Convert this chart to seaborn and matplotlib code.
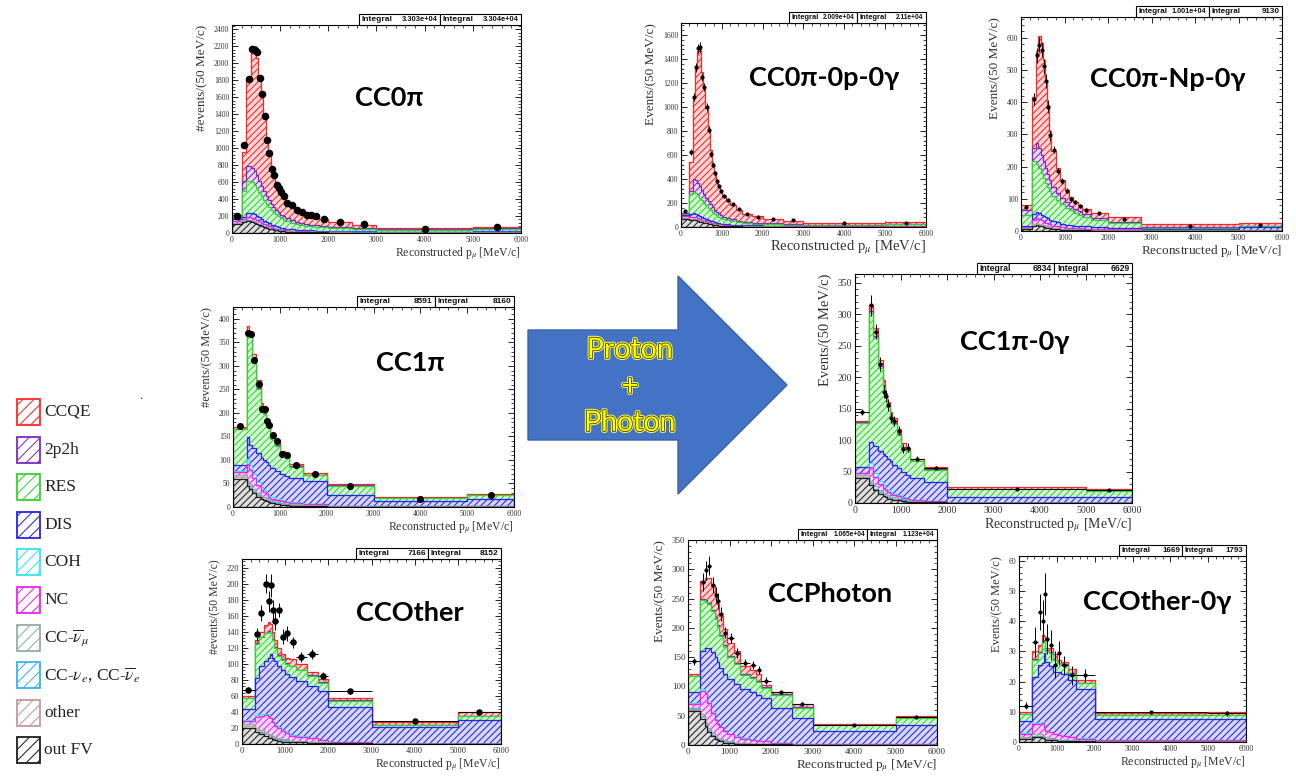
import numpy as np
import matplotlib
matplotlib.use("Agg")
import matplotlib.pyplot as plt
import matplotlib.patches as mpatches
import matplotlib.patheffects as pe
from matplotlib.ticker import MultipleLocator, AutoMinorLocator
import seaborn as sns

# ------------------------------------------------------------------
# CC0pi
cc0pi_edges = [0, 200, 300, 400, 450, 500, 550, 600, 650, 700, 750, 800, 850, 900, 950, 1000,
               1050, 1100, 1200, 1300, 1400, 1500, 1600, 1700, 1800, 2000, 2500, 3000, 5000, 6000]
cc0pi_data = [204, 1039, 1819, 2171, 2155, 2128, 1823, 1639, 1384, 1098, 941, 753, 678, 568, 525,
              486, 431, 353, 329, 267, 251, 216, 216, 196, 165, 125, 102, 51, 67]
cc0pi_ccqe = [26, 340, 1016, 1435, 1472, 1382, 1212, 1065, 855, 673, 545, 441, 378, 329, 288,
              254, 234, 194, 168, 146, 131, 117, 107, 100, 81, 59, 38, 11, 17]
cc0pi_mec = [8, 110, 176, 170, 160, 148, 135, 120, 105, 90, 78, 68, 60, 53, 47,
             42, 38, 34, 29, 25, 22, 20, 18, 16, 14, 11, 9, 5, 7]
cc0pi_res = [15, 310, 375, 365, 350, 330, 300, 272, 245, 218, 193, 172, 153, 137, 123,
             110, 100, 90, 78, 68, 60, 54, 49, 45, 40, 33, 28, 22, 30]
cc0pi_dis = [20, 25, 45, 50, 50, 48, 46, 43, 40, 37, 34, 31, 29, 27, 25,
             23, 21, 19, 17, 16, 15, 14, 13, 12, 11, 10, 9, 8, 12]
cc0pi_coh = [0, 1, 1, 1, 1, 1, 1, 1, 1, 1, 1, 1, 1, 1, 1,
             1, 1, 1, 1, 1, 1, 1, 1, 1, 1, 1, 1, 1, 1]
cc0pi_nc = [25, 15, 30, 32, 30, 28, 26, 24, 22, 20, 18, 16, 14, 13, 12,
            11, 10, 9, 8, 7, 6, 6, 5, 5, 4, 3, 3, 2, 2]
cc0pi_numubar = [4, 6, 8, 8, 8, 7, 7, 6, 6, 5, 5, 4, 4, 4, 3,
                 3, 3, 3, 2, 2, 2, 2, 2, 2, 1, 1, 1, 1, 1]
cc0pi_nue = [2, 3, 3, 3, 3, 3, 3, 2, 2, 2, 2, 2, 2, 2, 1,
             1, 1, 1, 1, 1, 1, 1, 1, 1, 1, 1, 1, 1, 1]
cc0pi_other = [5, 5, 6, 6, 6, 5, 5, 5, 4, 4, 4, 3, 3, 3, 3,
               2, 2, 2, 2, 2, 2, 1, 1, 1, 1, 1, 1, 1, 1]
cc0pi_outfv = [110, 135, 140, 130, 120, 108, 95, 82, 70, 60, 50, 42, 36, 31, 27,
               23, 20, 17, 14, 12, 10, 9, 8, 7, 6, 5, 4, 3, 3]

# CC0pi-0p-0gamma
cc0p_edges = [0, 200, 300, 350, 400, 450, 500, 550, 600, 650, 700, 750, 800, 850, 900, 950, 1000,
              1100, 1200, 1350, 1500, 1750, 2000, 2500, 3000, 5000, 6000]
cc0p_data = [134, 624, 1082, 1330, 1490, 1500, 1250, 1165, 1000, 810, 612, 520, 447, 380, 340,
             300, 260, 224, 190, 150, 110, 84, 64, 56, 34, 31]
cc0p_err = [12, 25, 33, 36, 39, 39, 35, 34, 32, 28, 25, 23, 21, 20, 18,
            17, 16, 15, 14, 11, 9, 8, 5, 5, 3, 4]
cc0p_ccqe = [6, 245, 684, 929, 1101, 1140, 978, 882, 745, 594, 452, 354, 296, 253, 222,
             196, 170, 142, 117, 94, 69, 52, 38, 28, 11, 14]
cc0p_mec = [4, 25, 105, 110, 105, 95, 85, 75, 65, 56, 48, 42, 36, 31, 27,
            24, 20, 17, 14, 11, 9, 7, 6, 4, 2, 3]
cc0p_res = [6, 170, 175, 170, 160, 150, 140, 125, 110, 98, 86, 76, 67, 59, 52,
            46, 40, 34, 29, 24, 20, 16, 13, 10, 8, 12]
cc0p_dis = [10, 25, 30, 30, 29, 28, 26, 24, 22, 20, 18, 16, 14, 13, 12,
            11, 10, 9, 8, 7, 6, 6, 5, 5, 4, 6]
cc0p_nc = [15, 10, 15, 15, 14, 13, 12, 11, 10, 9, 8, 7, 6, 5, 5,
           4, 4, 3, 3, 2, 2, 2, 1, 1, 1, 1]
cc0p_numubar = [5, 6, 7, 7, 7, 6, 6, 5, 5, 4, 4, 4, 3, 3, 3,
                2, 2, 2, 2, 1, 1, 1, 1, 1, 1, 1]
cc0p_other = [4, 4, 4, 4, 4, 3, 3, 3, 3, 3, 2, 2, 2, 2, 2,
              2, 1, 1, 1, 1, 1, 1, 1, 1, 1, 1]
cc0p_outfv = [70, 60, 60, 55, 50, 45, 40, 35, 30, 26, 22, 19, 16, 14, 12,
              10, 8, 7, 6, 5, 4, 3, 3, 2, 2, 2]

# CC0pi-Np-0gamma
ccnp_edges = [0, 250, 350, 400, 450, 500, 550, 600, 650, 700, 800, 900, 1000, 1100, 1200, 1300,
              1400, 1600, 2000, 2750, 5000, 6000]
ccnp_data = [75, 410, 546, 579, 564, 512, 465, 386, 298, 253, 187, 155, 125, 98, 90, 78, 65, 55, 37, 14, 18]
ccnp_err = [6, 20, 23, 24, 24, 23, 22, 20, 17, 12, 10, 9, 8, 7, 7, 6, 5, 4, 3, 1, 2]
ccnp_ccqe = [15, 157, 286, 348, 348, 314, 274, 213, 153, 114, 76, 57, 39, 26, 22, 19, 16, 14, 14, 10, 8]
ccnp_mec = [15, 40, 65, 62, 58, 52, 46, 40, 34, 28, 24, 20, 17, 14, 12, 10, 8, 6, 3, 2, 2]
ccnp_res = [35, 165, 150, 140, 128, 118, 108, 98, 88, 78, 68, 60, 52, 46, 40, 35, 30, 24, 15, 3, 4]
ccnp_dis = [4, 20, 20, 19, 18, 17, 16, 15, 14, 13, 12, 11, 10, 9, 8, 8, 7, 6, 5, 4, 8]
ccnp_nc = [3, 12, 14, 13, 12, 11, 10, 9, 8, 7, 6, 5, 4, 4, 3, 3, 3, 2, 2, 1, 1]
ccnp_numubar = [2, 4, 5, 5, 5, 4, 4, 4, 3, 3, 3, 2, 2, 2, 2, 2, 1, 1, 1, 1, 1]
ccnp_other = [1, 2, 2, 2, 2, 2, 2, 2, 2, 1, 1, 1, 1, 1, 1, 1, 1, 1, 1, 0, 0]
ccnp_outfv = [5, 15, 18, 16, 14, 12, 10, 9, 8, 6, 5, 4, 3, 3, 2, 2, 2, 1, 1, 1, 1]

# CC1pi
cc1pi_edges = [0, 300, 350, 400, 500, 600, 650, 700, 750, 800, 900, 1000, 1100, 1200, 1500,
               2000, 3000, 5000, 6000]
cc1pi_data = [172, 370, 368, 313, 262, 209, 209, 182, 175, 152, 140, 113, 110, 89, 71, 45, 18, 25]
cc1pi_ccqe = [4, 12, 10, 17, 17, 13, 10, 10, 8, 9, 7, 7, 6, 5, 3, 2, 2, 2]
cc1pi_mec = [1, 3, 3, 3, 3, 2, 2, 2, 2, 1, 1, 1, 1, 1, 1, 1, 0, 0]
cc1pi_res = [75, 222, 230, 180, 135, 100, 98, 83, 78, 63, 54, 40, 39, 24, 13, 19, 7, 9]
cc1pi_dis = [13, 45, 43, 54, 61, 63, 64, 64, 66, 61, 59, 55, 55, 52, 48, 23, 10, 14]
cc1pi_coh = [2, 12, 10, 10, 8, 6, 5, 4, 3, 3, 2, 2, 1, 1, 1, 0, 0, 0]
cc1pi_nc = [8, 35, 30, 22, 16, 12, 10, 8, 7, 6, 5, 4, 3, 3, 2, 1, 1, 1]
cc1pi_numubar = [3, 5, 5, 4, 4, 3, 3, 3, 2, 2, 2, 2, 1, 1, 1, 1, 1, 1]
cc1pi_nue = [1, 3, 3, 3, 2, 2, 2, 2, 1, 1, 1, 1, 1, 1, 0, 0, 0, 0]
cc1pi_other = [3, 3, 3, 2, 2, 2, 2, 2, 1, 1, 1, 1, 1, 1, 1, 0, 0, 0]
cc1pi_outfv = [60, 45, 38, 30, 22, 17, 14, 12, 10, 8, 6, 5, 4, 3, 2, 1, 1, 1]

# CC1pi-0gamma
cc1g_edges = [0, 300, 400, 500, 600, 650, 700, 750, 800, 900, 1000, 1100, 1200, 1500, 2000, 5000, 6000]
cc1g_data = [145, 314, 272, 221, 177, 170, 156, 135, 131, 115, 86, 88, 70, 56, 22, 20]
cc1g_err = [5, 17, 12, 11, 10, 10, 9, 8, 8, 7, 7, 7, 4, 3, 1, 1]
cc1g_ccqe = [2, 10, 13, 10, 8, 5, 6, 5, 8, 8, 6, 5, 3, 3, 2, 2]
cc1g_mec = [1, 3, 3, 3, 2, 2, 2, 2, 2, 2, 1, 1, 1, 1, 1, 1]
cc1g_res = [69, 205, 172, 133, 107, 94, 82, 72, 65, 53, 38, 37, 26, 20, 12, 9]
cc1g_dis = [10, 34, 43, 47, 50, 51, 50, 49, 46, 42, 41, 38, 35, 30, 10, 10]
cc1g_coh = [1, 6, 6, 5, 4, 3, 3, 3, 2, 2, 1, 1, 1, 0, 0, 0]
cc1g_nc = [3, 22, 14, 10, 8, 6, 5, 4, 3, 3, 2, 2, 1, 1, 0, 0]
cc1g_numubar = [2, 4, 4, 3, 3, 3, 3, 2, 2, 2, 2, 1, 1, 1, 0, 0]
cc1g_nue = [1, 2, 2, 2, 1, 1, 1, 1, 1, 1, 1, 1, 0, 0, 0, 0]
cc1g_other = [1, 1, 1, 1, 1, 1, 1, 1, 1, 1, 0, 0, 0, 0, 0, 0]
cc1g_outfv = [40, 28, 20, 14, 11, 9, 7, 6, 5, 4, 3, 2, 2, 1, 0, 0]

# CCOther
ccoth_edges = [0, 300, 400, 500, 600, 650, 700, 750, 800, 900, 1000, 1100, 1250, 1500, 1750,
               2000, 3000, 5000, 6000]
ccoth_data = [68, 137, 164, 200, 178, 198, 167, 154, 167, 134, 138, 127, 109, 112, 85, 66, 29, 40]
ccoth_err = [3, 8, 10, 12, 13, 14, 13, 12, 9, 9, 9, 7, 6, 6, 5, 3, 1, 2]
ccoth_ccqe = [2, 4, 6, 9, 11, 11, 9, 9, 9, 7, 7, 8, 7, 4, 4, 3, 3, 5]
ccoth_mec = [1, 1, 1, 1, 1, 1, 1, 1, 1, 1, 1, 1, 1, 1, 1, 1, 0, 0]
ccoth_res = [13, 43, 35, 34, 32, 26, 22, 16, 12, 13, 12, 13, 13, 13, 10, 8, 3, 5]
ccoth_dis = [14, 46, 61, 66, 71, 79, 80, 80, 77, 75, 73, 73, 69, 65, 61, 43, 21, 30]
ccoth_coh = [1, 2, 2, 2, 2, 1, 1, 1, 1, 1, 1, 1, 1, 0, 0, 0, 0, 0]
ccoth_nc = [4, 14, 18, 21, 22, 20, 17, 15, 13, 10, 8, 6, 5, 4, 3, 2, 0, 0]
ccoth_numubar = [2, 2, 2, 2, 2, 2, 2, 1, 1, 1, 1, 1, 1, 1, 1, 0, 0, 0]
ccoth_nue = [1, 1, 1, 1, 1, 1, 1, 1, 1, 1, 1, 0, 0, 0, 0, 0, 0, 0]
ccoth_other = [2, 2, 2, 2, 2, 2, 1, 1, 1, 1, 1, 1, 1, 1, 0, 0, 0, 0]
ccoth_outfv = [20, 15, 12, 10, 8, 7, 6, 5, 4, 3, 3, 2, 2, 1, 1, 1, 0, 0]

# CCPhoton
ccph_edges = [0, 300, 400, 450, 550, 650, 700, 750, 850, 950, 1100, 1250, 1500, 1650, 1750,
              2000, 2500, 3000, 5000, 6000]
ccph_data = [143, 278, 298, 306, 273, 256, 246, 223, 192, 183, 157, 140, 137, 128, 110, 90, 70, 35, 48]
ccph_err = [6, 15, 16, 16, 14, 14, 13, 12, 10, 9, 8, 6, 7, 7, 6, 3, 3, 1, 2]
ccph_ccqe = [4, 30, 37, 42, 41, 40, 35, 32, 28, 23, 20, 14, 12, 13, 4, 3, 5, 1, 3]
ccph_mec = [1, 3, 3, 3, 3, 3, 3, 2, 2, 2, 2, 1, 1, 1, 1, 1, 1, 0, 0]
ccph_res = [27, 87, 80, 75, 70, 65, 60, 54, 46, 38, 34, 25, 25, 22, 18, 23, 18, 11, 11]
ccph_dis = [19, 65, 75, 92, 102, 106, 105, 101, 97, 93, 89, 83, 82, 79, 74, 59, 44, 23, 34]
ccph_coh = [1, 2, 2, 2, 2, 1, 1, 1, 1, 1, 1, 1, 0, 0, 0, 0, 0, 0, 0]
ccph_nc = [6, 40, 48, 42, 34, 28, 24, 20, 16, 12, 10, 8, 6, 5, 4, 3, 2, 1, 1]
ccph_numubar = [3, 4, 4, 3, 3, 2, 2, 2, 2, 1, 1, 1, 1, 1, 1, 0, 0, 0, 0]
ccph_nue = [1, 2, 2, 2, 1, 1, 1, 1, 1, 1, 0, 0, 0, 0, 0, 0, 0, 0, 0]
ccph_other = [2, 2, 2, 2, 1, 1, 1, 1, 1, 1, 1, 0, 0, 0, 0, 0, 0, 0, 0]
ccph_outfv = [58, 45, 32, 22, 15, 11, 8, 6, 4, 3, 2, 2, 1, 1, 1, 1, 0, 0, 0]

# CCOther-0gamma
ccog_edges = [0, 350, 500, 600, 650, 700, 800, 900, 1000, 1100, 1300, 1500, 2000, 5000, 6000]
ccog_data = [12, 33, 43, 40, 49, 34, 32, 25.5, 29.5, 25.6, 22, 22, 9.8, 9.5]
ccog_err = [1.2, 5, 6, 7, 7, 5, 5, 4.5, 4, 3, 3, 2, 0.6, 0.8]
ccog_ccqe = [0.7, 2.7, 2.2, 2.2, 1.2, 0.7, 1.2, 1.8, 0.8, 0.8, 1.3, 0.9, 0.6, 1.1]
ccog_mec = [0.1, 0.3, 0.3, 0.3, 0.3, 0.3, 0.3, 0.2, 0.2, 0.2, 0.2, 0.1, 0.1, 0.1]
ccog_res = [2.2, 5.5, 4.0, 7.0, 4.0, 3.5, 4.5, 4.0, 3.0, 3.0, 2.0, 2.0, 1.3, 1.3]
ccog_dis = [4.1, 15.2, 19.2, 19.5, 24.2, 22.8, 21.6, 20.2, 20.6, 20.5, 18.8, 16.3, 7.0, 7.0]
ccog_coh = [0.2, 0.3, 0.3, 0.3, 0.3, 0.2, 0.2, 0.2, 0.1, 0.1, 0.1, 0.1, 0, 0]
ccog_nc = [1, 3.5, 3.5, 4, 3, 2, 2, 1.5, 1.5, 1.2, 1, 0.7, 0.3, 0.3]
ccog_numubar = [0.3, 0.5, 0.5, 0.5, 0.5, 0.4, 0.3, 0.3, 0.2, 0.2, 0.2, 0.1, 0.1, 0.1]
ccog_nue = [0.1, 0.2, 0.2, 0.2, 0.2, 0.1, 0.1, 0.1, 0.1, 0.1, 0.1, 0, 0, 0]
ccog_other = [0.3, 0.3, 0.3, 0.3, 0.3, 0.2, 0.2, 0.2, 0.1, 0.1, 0.1, 0.1, 0, 0]
ccog_outfv = [1, 1.5, 1.5, 1.2, 1, 0.8, 0.6, 0.5, 0.4, 0.3, 0.2, 0.2, 0.1, 0.1]

# ------------------------------------------------------------------
# interaction-mode styling (legend order, top of stack first)
legend_keys = ["ccqe", "mec", "res", "dis", "coh", "nc", "numubar", "nue", "other", "outfv"]
legend_labels = ["CCQE", "2p2h", "RES", "DIS", "COH", "NC", r"CC-$\overline{\nu}_{\mu}$",
                 r"CC-$\nu_{e}$, CC-$\overline{\nu}_{e}$", "other", "out FV"]
EDGE = {"ccqe": "#ff2626", "mec": "#7b2cbf", "res": "#2ed62e", "dis": "#2424f0",
        "coh": "#2ee6f2", "nc": "#f020f0", "numubar": "#93aea6", "nue": "#33b5f0",
        "other": "#c29a9a", "outfv": "#1e1e1e"}
FACE = {"ccqe": "#f9d4d4", "mec": "#e8d8f4", "res": "#d4f5d4", "dis": "#d6d6f6",
        "coh": "#d6f6f8", "nc": "#f6d4f6", "numubar": "#eaf0ee", "nue": "#d6eef8",
        "other": "#f2e8e8", "outfv": "#dedede"}
STACK_ORDER = legend_keys[::-1]

sns.set_theme(style="ticks")
plt.rcParams["font.family"] = ["Liberation Serif", "DejaVu Serif"]
plt.rcParams["mathtext.fontset"] = "stix"
plt.rcParams["hatch.linewidth"] = 0.75
plt.rcParams["axes.linewidth"] = 0.8
plt.rcParams["axes.edgecolor"] = "black"

W, H = 1296, 777
fig = plt.figure(figsize=(W / 100, H / 100), dpi=100, facecolor="white")

TITLE_FONT = ["Lato", "DejaVu Sans"]
BOX_FONT = ["Liberation Sans", "DejaVu Sans"]


def mc_dict(prefix):
    g = globals()
    out = {}
    for key in STACK_ORDER:
        name = f"{prefix}_{key}"
        if name in g:
            out[key] = g[name]
    return out


panels = [
    dict(title="CC0π", tpos=(389, 98), box=(232, 25, 521, 233), pre="cc0pi", err=None, xerr=False,
         ymax=2450, ystep=200, ylabel="#events/(50 MeV/c)", yls=9.5, xls=8.5, ts=5.5, ms=30,
         integ=("3.303e+04", "3.304e+04"), bfs=6.0),
    dict(title="CC0π-0p-0γ", tpos=(824, 78), box=(681, 23, 926, 227), pre="cc0p", err=cc0p_err, xerr=False,
         ymax=1700, ystep=200, ylabel="Events/(50 MeV/c)", yls=9.5, xls=10.5, ts=5.5, ms=9,
         integ=("2.009e+04", "2.11e+04"), bfs=5.4),
    dict(title="CC0π-Np-0γ", tpos=(1168, 79), box=(1021, 17, 1282, 231), pre="ccnp", err=ccnp_err, xerr=False,
         ymax=665, ystep=100, ylabel="Events/(50 MeV/c)", yls=9.5, xls=9.5, ts=5.5, ms=9,
         integ=("1.001e+04", "9130"), bfs=5.8),
    dict(title="CC1π", tpos=(410, 363), box=(233, 307, 514, 507), pre="cc1pi", err=None, xerr=False,
         ymax=425, ystep=50, ylabel="#events/(50 MeV/c)", yls=9.0, xls=8.5, ts=5.5, ms=26,
         integ=("8591", "8160"), bfs=6.0),
    dict(title="CC1π-0γ", tpos=(1015, 342), box=(855, 274, 1132, 503), pre="cc1g", err=cc1g_err, xerr=True,
         ymax=364, ystep=50, ylabel="Events/(50 MeV/c)", yls=10.5, xls=10, ts=7, ms=9,
         integ=("6834", "6629"), bfs=6.2),
    dict(title="CCOther", tpos=(410, 613), box=(242, 559, 501, 744), pre="ccoth", err=ccoth_err, xerr=True,
         ymax=231, ystep=20, ylabel="#events/(50 MeV/c)", yls=8.5, xls=8.5, ts=6, ms=22,
         integ=("7166", "8152"), bfs=6.0),
    dict(title="CCPhoton", tpos=(830, 594), box=(688, 540, 937, 745), pre="ccph", err=ccph_err, xerr=True,
         ymax=350, ystep=50, ylabel="Events/(50 MeV/c)", yls=9.5, xls=9.5, ts=6.5, ms=9,
         integ=("1.065e+04", "1.123e+04"), bfs=5.4),
    dict(title="CCOther-0γ", tpos=(1157, 602), box=(1019, 556, 1246, 742), pre="ccog", err=ccog_err, xerr=True,
         ymax=61.5, ystep=10, ylabel="Events/(50 MeV/c)", yls=9.0, xls=8.5, ts=5.5, ms=9,
         integ=("1669", "1793"), bfs=5.8),
]


def draw_panel(p):
    l, t, r, b = p["box"]
    ax = fig.add_axes([l / W, 1 - b / H, (r - l) / W, (b - t) / H])
    ax.set_facecolor("white")
    g = globals()
    edge_list = [float(e) for e in g[p["pre"] + "_edges"]]
    edges = np.asarray(edge_list)
    data = np.asarray(g[p["pre"] + "_data"], float)
    centers = 0.5 * (edges[:-1] + edges[1:])
    mc = mc_dict(p["pre"])

    # cumulative stack, drawn from the top layer down so lower layers sit in front
    running = np.zeros(len(centers))
    tops = {}
    for key in STACK_ORDER:
        if key in mc:
            running = running + np.asarray(mc[key], float)
            tops[key] = running.copy()
    for key in STACK_ORDER[::-1]:
        if key not in tops:
            continue
        sns.histplot(x=centers, weights=tops[key], bins=edge_list, stat="count", element="step",
                     fill=True, facecolor=FACE[key], edgecolor=EDGE[key], hatch="/////",
                     linewidth=0.9, alpha=1, ax=ax)

    if p["err"] is not None:
        xerr = (edges[1:] - edges[:-1]) / 2 if p["xerr"] else None
        ax.errorbar(centers, data, yerr=p["err"], xerr=xerr, fmt="none", ecolor="black",
                    elinewidth=0.7, capsize=0, zorder=5)
    sns.scatterplot(x=centers, y=data, color="black", s=p["ms"], edgecolor="black",
                    linewidth=0, zorder=6, ax=ax)

    ax.set_xlim(0, 6000)
    ax.set_ylim(0, p["ymax"])
    ax.xaxis.set_major_locator(MultipleLocator(1000))
    ax.xaxis.set_minor_locator(AutoMinorLocator(5))
    ax.yaxis.set_major_locator(MultipleLocator(p["ystep"]))
    ax.yaxis.set_minor_locator(AutoMinorLocator(5))
    ax.tick_params(which="major", direction="in", length=4, width=0.6, top=True, right=True,
                   labelsize=p["ts"], labelcolor="#333333", pad=2, color="black")
    ax.tick_params(which="minor", direction="in", length=2, width=0.5, top=True, right=True,
                   color="black")
    ax.set_xlabel(r"Reconstructed p$_{\mu}$ [MeV/c]", loc="right", fontsize=p["xls"],
                  color="#333333", labelpad=1)
    ax.set_ylabel(p["ylabel"], loc="top", fontsize=p["yls"], color="#333333", labelpad=4)
    for s in ax.spines.values():
        s.set_color("black")
        s.set_linewidth(0.8)
    return ax


for p in panels:
    draw_panel(p)

# overlay in pixel coordinates for titles, stat boxes, legend and arrow
deco = fig.add_axes([0, 0, 1, 1])
deco.set_xlim(0, W)
deco.set_ylim(H, 0)
deco.axis("off")

for p in panels:
    l, t, r, b = p["box"]
    deco.text(p["tpos"][0], p["tpos"][1], p["title"], ha="center", va="center",
              fontsize=19.5, fontweight="bold", family=TITLE_FONT, color="black")
    bw = 0.56 * (r - l)
    bh = 11
    x0 = r - bw
    half = bw / 2
    for k, val in enumerate(p["integ"]):
        bx = x0 + k * half
        deco.add_patch(mpatches.Rectangle((bx, t - bh), half, bh, facecolor="white",
                                          edgecolor="black", lw=0.8))
        deco.text(bx + 2.5, t - bh / 2, "Integral", ha="left", va="center", fontsize=p["bfs"],
                  fontweight="bold", family=BOX_FONT, color="#111111")
        vsize = p["bfs"] - 0.6 if "e+" in val else p["bfs"]
        deco.text(bx + half - 2.5, t - bh / 2, val, ha="right", va="center", fontsize=vsize,
                  fontweight="bold", family=BOX_FONT, color="#111111")

# legend of interaction modes
for i, (key, lab) in enumerate(zip(legend_keys, legend_labels)):
    y0 = 399 + i * 37.6
    deco.add_patch(mpatches.Rectangle((17, y0), 23, 26, facecolor="white",
                                      edgecolor=EDGE[key], hatch="///", lw=1.3))
    deco.text(44, y0 + 13, lab, ha="left", va="center", fontsize=12.5, color="#222222")
deco.text(141, 396, ".", ha="center", va="center", fontsize=9, color="#333333")

# arrow between the selections
deco.add_patch(mpatches.FancyArrow(528, 385, 259, 0, width=110, head_width=218, head_length=109,
                                   length_includes_head=True, facecolor="#4472C4",
                                   edgecolor="#3a62a8", lw=1))
effects = [pe.Stroke(linewidth=2.6, foreground="#ffff40"), pe.Stroke(linewidth=1.1, foreground="#303010"),
           pe.Normal()]
for txt, yy in (("Proton", 350), ("+", 387), ("Photon", 423)):
    deco.text(630, yy, txt, ha="center", va="center", fontsize=20.5, family=TITLE_FONT,
              color="#ffff00", path_effects=effects)

fig.savefig("out.png", dpi=100, facecolor="white")
